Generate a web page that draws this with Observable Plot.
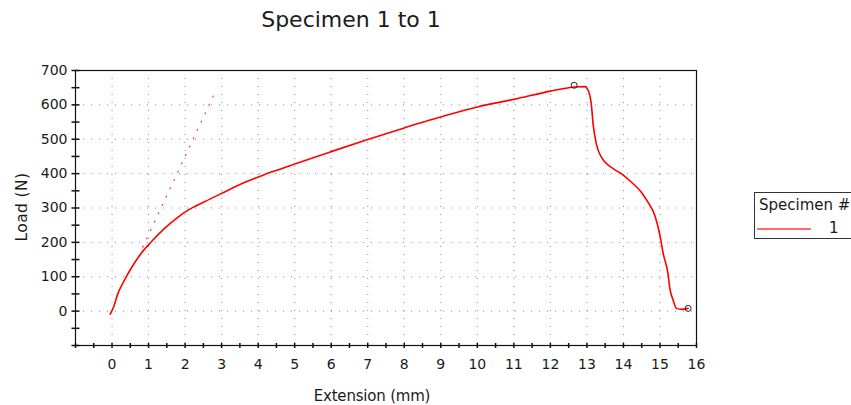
<!DOCTYPE html>
<html>
<head>
<meta charset="utf-8">
<script src="https://cdn.jsdelivr.net/npm/d3@7"></script>
<script src="https://cdn.jsdelivr.net/npm/@observablehq/plot@0.6"></script>
<style>
  body { margin: 0; background: #fff; font-family: "DejaVu Sans", Verdana, sans-serif; }
  #wrap { position: relative; width: 851px; height: 405px; overflow: hidden; }
  .lbl { position: absolute; white-space: nowrap; color: #1a1a1a; }
</style>
</head>
<body>
<div id="wrap">
  <div class="lbl" id="title" style="left:351px; top:9px; font-size:22px; line-height:22px; transform:translateX(-50%);">Specimen 1 to 1</div>
  <div class="lbl" id="xlabel" style="left:372px; top:389px; font-size:15px; line-height:15px; letter-spacing:-0.2px; transform:translateX(-50%);">Extension (mm)</div>
  <div class="lbl" id="ylabel" style="left:22px; top:207px; font-size:15.5px; line-height:15px; letter-spacing:0.4px; transform:translate(-50%,-50%) rotate(-90deg);">Load (N)</div>
  <div id="legend" style="position:absolute; left:754px; top:192px; width:120px; height:47px; border:1px solid #333; box-sizing:border-box; background:#fff;">
    <div class="lbl" style="left:4px; top:5px; font-size:15px; line-height:15px;">Specimen #</div>
    <div style="position:absolute; left:2px; top:35px; width:54px; height:0; border-top:2px solid #ff6b6b;"></div>
    <div class="lbl" style="left:74px; top:28px; font-size:15px; line-height:15px;">1</div>
  </div>
</div>
<script>
// Main load-extension curve
const extension = [-0.05, 0.05, 0.15, 0.34, 0.52, 0.79, 1.07, 1.43, 1.8, 2.07, 2.53, 3.07, 3.62, 4.17, 4.6, 5.0, 6.0, 7.0, 8.0, 8.45, 9.0, 10.0, 11.0, 12.0, 12.5, 12.65, 12.94, 13.05, 13.12, 13.17, 13.26, 13.4, 13.67, 13.95, 14.22, 14.49, 14.67, 14.86, 14.99, 15.09, 15.22, 15.27, 15.36, 15.45, 15.6, 15.77];
const load      = [-9, 14, 48, 90, 124, 167, 201, 240, 273, 293, 318, 346, 374, 397, 413, 428, 464, 499, 533, 548, 565, 594, 616, 640, 650, 652, 653, 638, 602, 544, 486, 447, 418, 399, 375, 346, 317, 278, 225, 167, 109, 66, 32, 8, 5, 8];
// Modulus (dotted) line
const modulusExt  = [0.84, 2.82];
const modulusLoad = [186, 637];
// Markers (peak and break)
const markerExt  = [12.65, 15.77];
const markerLoad = [657, 8];
// Axis ticks
const xLabels = d3.range(0, 17, 1);
const yLabels = d3.range(0, 701, 100);
const xGrid = d3.range(0, 16, 1);
const yGrid = d3.range(0, 601, 100);
const xTicks = d3.range(-1, 16.01, 0.5);
const yTicks = d3.range(-100, 700.1, 50);

const curve = extension.map((x, i) => ({x, y: load[i]}));
const modulus = modulusExt.map((x, i) => ({x, y: modulusLoad[i]}));
const markers = markerExt.map((x, i) => ({x, y: markerLoad[i]}));

const hTick = {draw(c) { c.moveTo(-4, 0); c.lineTo(4, 0); }};
const vTick = {draw(c) { c.moveTo(0, -2.5); c.lineTo(0, 2.5); }};

const chart = Plot.plot({
  width: 851,
  height: 405,
  marginLeft: 75,
  marginRight: 155,
  marginTop: 70,
  marginBottom: 60,
  style: {fontFamily: "DejaVu Sans, Verdana, sans-serif", fontSize: "14px", color: "#1a1a1a", background: "transparent"},
  x: {domain: [-1, 16]},
  y: {domain: [-100, 700]},
  marks: [
    Plot.gridX(xGrid, {stroke: "#888", strokeOpacity: 1, strokeDasharray: "1,7"}),
    Plot.gridY(yGrid, {stroke: "#888", strokeOpacity: 1, strokeDasharray: "1,7"}),
    Plot.axisX(xLabels, {tickSize: 0, tickPadding: 14, label: null}),
    Plot.axisY(yLabels, {tickSize: 0, tickPadding: 8, label: null}),
    Plot.line(modulus, {x: "x", y: "y", stroke: "#ff3030", strokeWidth: 1.1, strokeDasharray: "1.2,8"}),
    Plot.line(curve, {x: "x", y: "y", stroke: "red", strokeWidth: 1.6, curve: "monotone-x"}),
    Plot.dot(markers, {x: "x", y: "y", r: 3, stroke: "#222", fill: "none", strokeWidth: 1}),
    Plot.frame({stroke: "#111", strokeWidth: 1.2}),
    Plot.dot(xTicks, {x: d => d, frameAnchor: "bottom", symbol: vTick, stroke: "#111", fill: "none", r: 2}),
    Plot.dot(yTicks, {y: d => d, frameAnchor: "left", symbol: hTick, stroke: "#111", fill: "none", r: 2})
  ]
});
chart.style.position = "absolute";
chart.style.left = "0px";
chart.style.top = "0px";
document.getElementById("wrap").prepend(chart);
</script>
</body>
</html>
